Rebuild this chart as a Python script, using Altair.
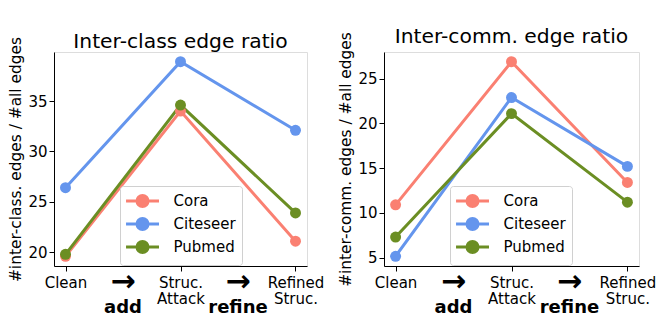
import altair as alt
import pandas as pd

stages = [0, 1, 2]
series = ["Cora", "Citeseer", "Pubmed"]
colors = ["#FA8072", "#6495ED", "#6B8E23"]

class_cora = [19.6, 34.0, 21.1]
class_citeseer = [26.4, 38.9, 32.1]
class_pubmed = [19.8, 34.6, 23.9]

comm_cora = [10.9, 26.9, 13.4]
comm_citeseer = [5.15, 22.9, 15.2]
comm_pubmed = [7.3, 21.1, 11.2]

arrow_x = [0.5, 1.5]
arrow_text = ["\u2192", "\u2192"]
action_text = ["add", "refine"]

FONT = "DejaVu Sans"
LEGEND_PATH = ("M-1.12,0L3,0M1.63,0A0.69,0.69,0,1,1,0.25,0"
               "A0.69,0.69,0,1,1,1.63,0Z")


def make_df(a, b, c):
    rows = []
    for name, vals in zip(series, [a, b, c]):
        for s, v in zip(stages, vals):
            rows.append({"stage": s, "value": v, "series": name})
    return pd.DataFrame(rows)


def panel(df, title, ytitle, ydomain, yvalues, width):
    x = alt.X("stage:Q", scale=alt.Scale(domain=[-0.1, 2.1], nice=False, zero=False),
              axis=alt.Axis(values=stages, title=None, grid=False,
                            labelExpr="datum.value == 0 ? 'Clean' : datum.value == 1 ? ['Struc.', 'Attack'] : ['Refined', 'Struc.']",
                            labelFontSize=15, labelFont=FONT, labelColor="#000",
                            labelLineHeight=16.5, labelPadding=3, labelBaseline="line-top",
                            tickSize=5, tickColor="#000", domainColor="#000",
                            labelFlush=False, labelOverlap=False))
    y = alt.Y("value:Q", scale=alt.Scale(domain=ydomain, nice=False, zero=False),
              axis=alt.Axis(values=yvalues, title=ytitle, grid=False,
                            labelFontSize=15, labelFont=FONT, labelColor="#000",
                            labelPadding=2, tickSize=5, tickColor="#000", domainColor="#000",
                            titleFontSize=15.4, titleFont=FONT, titleFontWeight="normal",
                            titleColor="#000", titlePadding=4))
    color = alt.Color("series:N", scale=alt.Scale(domain=series, range=colors),
                      legend=alt.Legend(title=None, orient="none", legendX=66, legendY=134,
                                        symbolType=LEGEND_PATH, symbolSize=256,
                                        symbolStrokeWidth=3, columnPadding=0,
                                        labelFontSize=15, labelFont=FONT, labelColor="#000",
                                        labelOffset=29, padding=5.5, rowPadding=-2,
                                        strokeColor="#d0d0d0", fillColor="white",
                                        cornerRadius=3))
    base = alt.Chart(df)
    lines = base.mark_line(strokeWidth=3).encode(x=x, y=y, color=color)
    points = base.mark_circle(size=120, opacity=1).encode(x=x, y=y, color=color)
    ann = pd.DataFrame({"x": arrow_x, "arrow": arrow_text, "action": action_text})
    arrows = alt.Chart(ann).mark_text(font=FONT, fontSize=30, fontWeight="bold", color="#000",
                                       baseline="middle").encode(
        x=alt.X("x:Q"), y=alt.value(230), text="arrow:N")
    actions = alt.Chart(ann).mark_text(font=FONT, fontSize=18, fontWeight="bold", color="#000",
                                        baseline="middle").encode(
        x=alt.X("x:Q"), y=alt.value(256), text="action:N")
    return alt.layer(lines, points, arrows, actions).properties(
        width=width, height=214,
        title=alt.TitleParams(title, fontSize=20.3, font=FONT, fontWeight="normal",
                              color="#000", offset=-15.4, frame="group"))


left = panel(make_df(class_cora, class_citeseer, class_pubmed), "Inter-class edge ratio",
             "#inter-class. edges / #all edges", [18.64, 39.86], [20, 25, 30, 35], 253)
right = panel(make_df(comm_cora, comm_citeseer, comm_pubmed), "Inter-comm. edge ratio",
              "#inter-comm. edges / #all edges", [4.06, 27.99], [5, 10, 15, 20, 25], 255)

chart = alt.hconcat(left, right, spacing=13).resolve_scale(color="independent").properties(
    padding={"left": 0, "top": 18, "right": 0, "bottom": 0}
).configure_view(stroke="#000", strokeWidth=1).configure(background="white")

chart.save("out.html", embed_options={"renderer": "svg", "actions": False})
